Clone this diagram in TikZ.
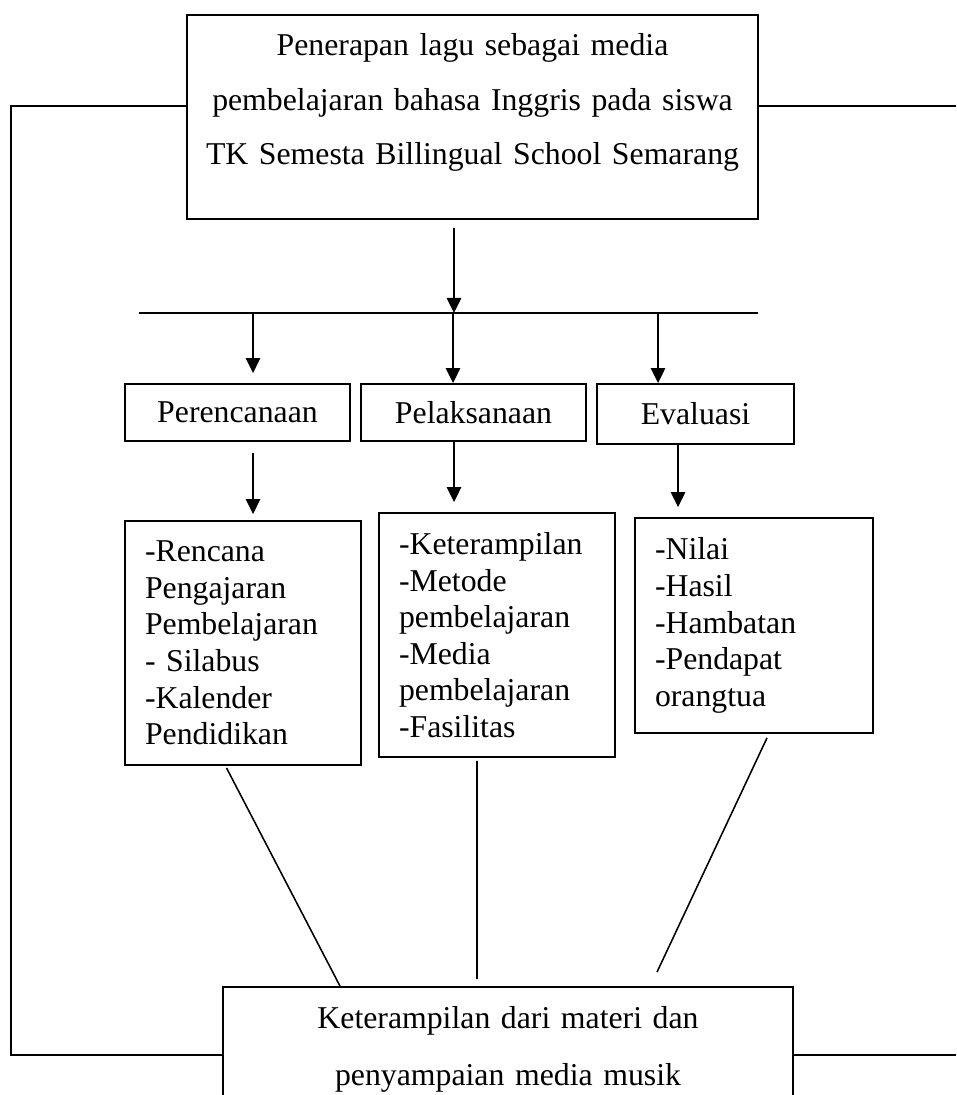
\documentclass[tikz,border=0pt]{standalone}
\usepackage{fontspec}
\setmainfont{Liberation Serif}
\usetikzlibrary{arrows.meta,positioning,calc}
\tikzset{
  kotakjudul/.style={
    draw, line width=1.3pt, minimum width=14.275cm, minimum height=5.1cm,
    text width=14cm, align=center, inner sep=0pt,
    font=\fontsize{22.6}{39}\selectfont
  },
  kotaktahap/.style={
    draw, line width=1.3pt, minimum height=1.425cm, inner sep=0pt,
    font=\fontsize{22.6}{26}\selectfont
  },
  kotakisi/.style={
    draw, line width=1.3pt, align=left, inner xsep=0.5cm, inner ysep=0pt,
    font=\fontsize{22.6}{26}\selectfont
  },
  kotakhasil/.style={
    draw, line width=1.3pt, minimum width=14.25cm, minimum height=3.125cm,
    text width=14cm, align=center, inner sep=0pt,
    font=\fontsize{22.6}{40.5}\selectfont
  },
  panah/.style={-{Triangle[length=0.375cm,width=0.36cm]}, line width=1.3pt},
  garis/.style={line width=1.3pt},
  garistipis/.style={line width=1.1pt}
}

\begin{document}
\begin{tikzpicture}[x=1cm,y=1cm]
  \path[use as bounding box] (0,0) rectangle (23.9,27.375);
  \clip (0,0) rectangle (23.9,27.375);

  % Judul penelitian
  \node[kotakjudul] (penerapan) at (11.8125,24.45)
    {Penerapan lagu sebagai media\\pembelajaran bahasa Inggris pada siswa\\
     TK Semesta Billingual School Semarang\\[-0.475cm]\mbox{}};

  % Tahapan
  \node[kotaktahap, minimum width=5.625cm] (perencanaan) at (5.9375,17.0625) {Perencanaan};
  \node[kotaktahap, minimum width=5.625cm] (pelaksanaan) at (11.8375,17.0625) {Pelaksanaan};
  \node[kotaktahap, minimum width=4.925cm, minimum height=1.5cm] (evaluasi) at (17.3875,17.025) {Evaluasi};

  % Rincian tiap tahap
  \node[kotakisi, text width=4.9cm, minimum height=6.1cm] (rincianrencana) at (6.075,11.3)
    {-Rencana\\Pengajaran\\Pembelajaran\\- Silabus\\-Kalender\\Pendidikan};
  \node[kotakisi, text width=4.9cm, minimum height=6.1cm] (rincianlaksana) at (12.425,11.5)
    {-Keterampilan\\-Metode\\pembelajaran\\-Media\\pembelajaran\\-Fasilitas};
  \node[kotakisi, text width=4.95cm, minimum height=5.375cm] (rincianevaluasi) at (18.85,11.7375)
    {-Nilai\\-Hasil\\-Hambatan\\-Pendapat\\orangtua};

  % Hasil akhir
  \node[kotakhasil] (keterampilan) at (12.7,1.1375)
    {Keterampilan dari materi dan\\penyampaian media musik};

  % Titik bantu
  \coordinate (batangkiri) at (3.475,19.55);
  \coordinate (batangkanan) at (18.95,19.55);
  \coordinate (batangtengah) at (11.35,19.55);
  \coordinate (kiriatas) at (0.275,24.725);
  \coordinate (kiribawah) at (0.275,1.0);
  \coordinate (kananatas) at (23.9,24.725);
  \coordinate (kananbawah) at (23.9,1.0);

  % Judul ke tahapan
  \draw[panah] ([xshift=-0.4625cm,yshift=-0.2cm]penerapan.south) -- (batangtengah);
  \draw[garis] (batangkiri) -- (batangkanan);
  \draw[panah] ([xshift=0.3875cm]perencanaan.north |- batangkiri) --
    ([xshift=0.3875cm,yshift=0.25cm]perencanaan.north);
  \draw[panah] ([xshift=-0.5125cm]pelaksanaan.north |- batangkiri) --
    ([xshift=-0.5125cm]pelaksanaan.north);
  \draw[panah] ([xshift=-0.9375cm]evaluasi.north |- batangkiri) --
    ([xshift=-0.9375cm]evaluasi.north);

  % Tahapan ke rincian
  \draw[panah] ([xshift=0.3875cm,yshift=-0.275cm]perencanaan.south) --
    ([xshift=0.25cm,yshift=0.15cm]rincianrencana.north);
  \draw[panah] ([xshift=-0.4875cm]pelaksanaan.south) --
    ([xshift=-1.075cm,yshift=0.25cm]rincianlaksana.north);
  \draw[panah] ([xshift=-0.4375cm]evaluasi.south) --
    ([xshift=-1.9cm,yshift=0.25cm]rincianevaluasi.north);

  % Rincian ke hasil
  \draw[garistipis] ([xshift=-0.4125cm,yshift=-0.05cm]rincianrencana.south) --
    ([xshift=-4.2cm]keterampilan.north);
  \draw[garistipis] ([xshift=-0.5cm,yshift=-0.075cm]rincianlaksana.south) --
    ([xshift=-0.775cm,yshift=0.175cm]keterampilan.north);
  \draw[garistipis] ([xshift=0.325cm,yshift=-0.1cm]rincianevaluasi.south) --
    ([xshift=3.725cm,yshift=0.35cm]keterampilan.north);

  % Umpan balik judul dan hasil
  \draw[garis] (penerapan.west |- kiriatas) -- (kiriatas) -- (kiribawah) -- (kiribawah -| keterampilan.west);
  \draw[garis] (penerapan.east |- kananatas) -- (kananatas);
  \draw[garis] (keterampilan.east |- kananbawah) -- (kananbawah);
\end{tikzpicture}
\end{document}
